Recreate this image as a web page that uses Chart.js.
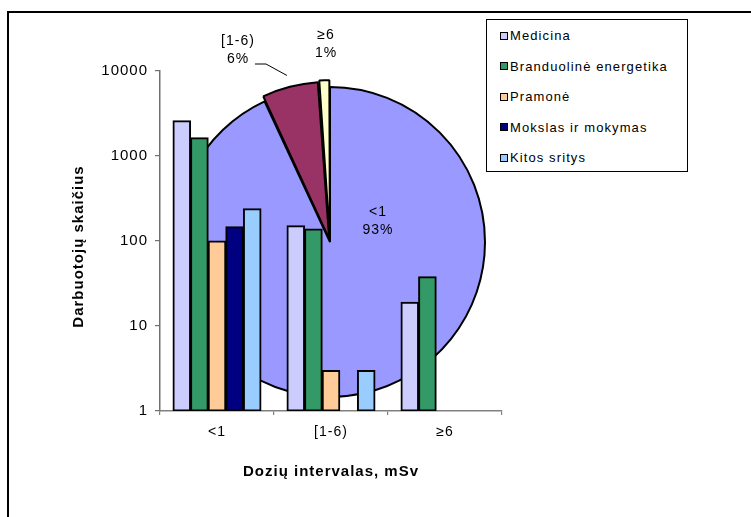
<!DOCTYPE html>
<html>
<head>
<meta charset="utf-8">
<script src="https://cdn.jsdelivr.net/npm/chart.js@4/dist/chart.umd.min.js"></script>
<style>
  html, body { margin: 0; padding: 0; background: #fff; width: 751px; height: 517px; overflow: hidden;
    font-family: "Liberation Sans", Arial, sans-serif; }
  #frame { position: absolute; left: 7px; top: 11px; width: 760px; height: 520px;
    border-left: 2px solid #000; border-top: 2px solid #000; }
  #pieWrap { position: absolute; left: 100px; top: 12px; width: 460px; height: 460px; }
  #barWrap { position: absolute; left: 0; top: 0; width: 751px; height: 517px; }
  #legend { position: absolute; left: 486px; top: 19px; width: 200px; height: 150px;
    border: 1px solid #000; background: #fff; box-sizing: content-box; padding-top: 0.8px; }
  #legend .item { height: 30.4px; display: flex; align-items: center; padding-left: 13px;
    font-size: 13px; letter-spacing: 1.1px; color: #000; white-space: nowrap; }
  #legend .swatch { width: 8px; height: 8px; box-sizing: border-box; border: 1.5px solid #000;
    margin-right: 2px; flex: none; }
</style>
</head>
<body>
<div id="frame"></div>
<div id="pieWrap"><canvas id="pie" width="460" height="460"></canvas></div>
<div id="barWrap"><canvas id="bars" width="751" height="517"></canvas></div>
<div id="legend"></div>
<script>
// Dose intervals (x categories)
const categories = ['<1', '[1-6)', '≥6'];

// Worker counts per activity field, one value per dose interval
const seriesNames = ['Medicina', 'Branduolinė energetika', 'Pramonė', 'Mokslas ir mokymas', 'Kitos sritys'];
const medicina      = [2600, 151, 19];
const branduoline   = [1640, 138, 38];
const pramone       = [100, 3, null];
const mokslas       = [147, null, null];
const kitos         = [240, 3, null];
const seriesColors  = ['#CCCCFF', '#339966', '#FFCC99', '#000080', '#99CCFF'];

// Log axis ticks
const yTickValues = [1, 10, 100, 1000, 10000];

// Pie: share of all workers in each dose interval
const pieColors = ['#9999FF', '#993366', '#FFFFCC'];

const allSeries = [medicina, branduoline, pramone, mokslas, kitos];
const pieValues = categories.map((_, ci) => allSeries.reduce((s, arr) => s + (arr[ci] || 0), 0));
const pieTotal = pieValues.reduce((a, b) => a + b, 0);

const FONT = '"Liberation Sans", Arial, sans-serif';
Chart.defaults.font.family = FONT;
Chart.defaults.color = '#000';

// Legend
const legendEl = document.getElementById('legend');
seriesNames.forEach((name, i) => {
  const row = document.createElement('div');
  row.className = 'item';
  const sw = document.createElement('span');
  sw.className = 'swatch';
  sw.style.background = seriesColors[i];
  const tx = document.createElement('span');
  tx.textContent = name;
  row.appendChild(sw);
  row.appendChild(tx);
  legendEl.appendChild(row);
});

// Labels for the pie slices: category name and percentage
const pieLabelLayout = [
  { dx: 48, dy: -20.5 },
  { dx: -92, dy: -192, leader: true },
  { dx: -4, dy: -197.5 }
];
const pieLabels = {
  id: 'pieLabels',
  afterDatasetsDraw(chart) {
    const ctx = chart.ctx;
    const meta = chart.getDatasetMeta(0);
    ctx.save();
    ctx.letterSpacing = '1px';
    ctx.font = '14px ' + FONT;
    ctx.fillStyle = '#000';
    ctx.textAlign = 'center';
    ctx.textBaseline = 'middle';
    meta.data.forEach((arc, i) => {
      const p = arc.getProps(['x', 'y', 'startAngle', 'endAngle', 'outerRadius'], true);
      const lay = pieLabelLayout[i];
      const cx = p.x + lay.dx, cy = p.y + lay.dy;
      const pct = Math.round(pieValues[i] / pieTotal * 100) + '%';
      ctx.fillText(categories[i], cx, cy - 9);
      ctx.fillText(pct, cx, cy + 9);
      if (lay.leader) {
        const mid = (p.startAngle + p.endAngle) / 2;
        const off = arc.options.offset || 0;
        const r = p.outerRadius + off + 4;
        const ex = p.x + Math.cos(mid) * r, ey = p.y + Math.sin(mid) * r;
        const sx = cx + 17, sy = cy + 14;
        ctx.beginPath();
        ctx.moveTo(sx, sy);
        ctx.lineTo(sx + 11, sy);
        ctx.lineTo(ex, ey);
        ctx.strokeStyle = '#000';
        ctx.lineWidth = 1;
        ctx.stroke();
      }
    });
    ctx.restore();
  }
};

new Chart(document.getElementById('pie'), {
  type: 'pie',
  data: {
    labels: categories,
    datasets: [{
      data: pieValues,
      backgroundColor: pieColors,
      borderColor: '#000',
      borderWidth: 2,
      offset: [0, 13, 14],
      radius: 155
    }]
  },
  options: {
    responsive: false,
    animation: false,
    events: [],
    layout: { padding: 0 },
    plugins: { legend: { display: false }, tooltip: { enabled: false } }
  },
  plugins: [pieLabels]
});

// Text spacing + rotated y-axis title
const textStyle = {
  id: 'textStyle',
  beforeDraw(chart) { chart.ctx.letterSpacing = '1px'; },
  afterDraw(chart) {
    const ctx = chart.ctx;
    ctx.save();
    ctx.letterSpacing = '1px';
    ctx.font = 'bold 15px ' + FONT;
    ctx.fillStyle = '#000';
    ctx.textAlign = 'center';
    ctx.textBaseline = 'middle';
    ctx.translate(78.5, 246.5);
    ctx.rotate(-Math.PI / 2);
    ctx.fillText('Darbuotojų skaičius', 0, 0);
    ctx.restore();
  }
};

new Chart(document.getElementById('bars'), {
  type: 'bar',
  data: {
    labels: categories,
    datasets: allSeries.map((values, i) => ({
      label: seriesNames[i],
      data: values,
      backgroundColor: seriesColors[i],
      borderColor: '#000',
      borderWidth: 2,
      borderSkipped: false,
      inflateAmount: 0.5,
      categoryPercentage: 0.772,
      barPercentage: 1
    }))
  },
  options: {
    responsive: false,
    animation: false,
    events: [],
    layout: { padding: { top: 71, right: 249, left: 0, bottom: 0 } },
    plugins: { legend: { display: false }, tooltip: { enabled: false } },
    scales: {
      x: {
        grid: { offset: true, drawOnChartArea: false, tickLength: 4, color: '#808080', lineWidth: 1.2 },
        border: { color: '#808080', width: 1.5 },
        ticks: { font: { size: 14 }, color: '#000', padding: 9, maxRotation: 0 },
        title: { display: true, text: 'Dozių intervalas, mSv', color: '#000',
          font: { size: 15, weight: 'bold' }, padding: { top: 0, bottom: 36.5 } },
        afterFit(scale) { scale.height = 106; }
      },
      y: {
        type: 'logarithmic',
        min: 1,
        max: 10000,
        afterBuildTicks(scale) { scale.ticks = yTickValues.map(v => ({ value: v })); },
        ticks: { callback: v => String(v), font: { size: 15 }, color: '#000', padding: 7 },
        grid: { drawOnChartArea: false, tickLength: 5, color: '#707070', lineWidth: 1.2 },
        border: { color: '#707070', width: 1.5 },
        afterFit(scale) { scale.width = 160; }
      }
    }
  },
  plugins: [textStyle]
});
</script>
</body>
</html>
